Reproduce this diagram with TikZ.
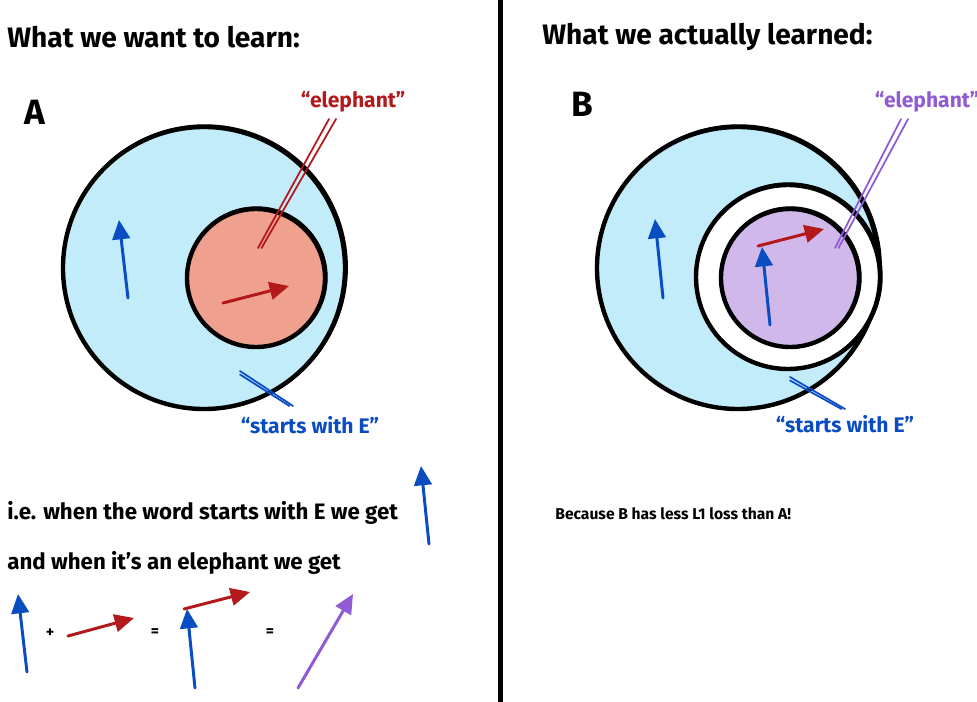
\documentclass[tikz,border=0pt]{standalone}
\usepackage{fontspec}
\setmainfont{Fira Sans}
\usepackage{xcolor}
\usetikzlibrary{arrows.meta}

\definecolor{skyfill}{HTML}{C3ECFA}
\definecolor{salmonfill}{HTML}{F0A08F}
\definecolor{lilacfill}{HTML}{D1B8EA}
\definecolor{vblue}{HTML}{0A4CC2}
\definecolor{vred}{HTML}{B3191B}
\definecolor{vpurple}{HTML}{8F5AD4}

\begin{document}
\begin{tikzpicture}[x=0.02cm, y=-0.02cm,
  rim/.style={line width=2.5pt, black},
  rimtrace/.style={line width=0.7pt, black},
  vec/.style={line width=1.7pt, line cap=round, -{Triangle[length=11pt, width=10pt]}},
  pointer/.style={line width=1pt, line cap=round},
  heading/.style={anchor=west, inner sep=0pt, font=\fontsize{16}{19}\selectfont\bfseries},
  panel/.style={inner sep=0pt, font=\fontsize{20}{24}\selectfont\bfseries},
  tag/.style={inner sep=0pt, font=\fontsize{12}{14}\selectfont\bfseries},
  prose/.style={anchor=west, inner sep=0pt, font=\fontsize{12.7}{15}\selectfont\bfseries},
  op/.style={inner sep=0pt, font=\fontsize{9}{10}\selectfont\bfseries}]
  \useasboundingbox (0,0) rectangle (977,702);

  % ---- divider ----
  \draw[line width=2.3pt] (500.5,0) -- (500.5,702);

  % ---- headings ----
  \node[heading] (headA) at (7,37) {What we want to learn:};
  \node[heading] (headB) at (542,37) {What we actually learned:};
  \node[panel] (panA) at (35,112) {A};
  \node[panel] (panB) at (582,104) {B};

  % ---- panel A: circles ----
  \fill[skyfill] (204,268) circle[radius=141];
  \draw[rim] (204,268) circle[radius=141];
  \draw[rimtrace] (204.8,267.4) circle[radius=142.5];
  \fill[salmonfill] (256,278) circle[radius=69];
  \draw[rim] (256,278) circle[radius=69];
  \draw[rimtrace] (256.6,277.4) circle[radius=70.5];

  % ---- panel A: vectors ----
  \draw[vec, vblue] (128,298) -- (119,220);
  \draw[vec, vred] (223,303) -- (289,286);

  % ---- panel A: labels and pointers ----
  \node[tag, vred] (elA) at (353,102) {“elephant”};
  \node[tag, vblue] (stA) at (310,425) {“starts with E”};
  \coordinate (elAin) at (258,248);
  \coordinate (elAout) at (329,119);
  \coordinate (stAin) at (240,371);
  \coordinate (stAout) at (293,406);
  \draw[pointer, vred] (elAin) -- (elAout);
  \draw[pointer, vred] ([xshift=2]elAin) -- ([xshift=4]elAout);
  \draw[pointer, vblue] (stAin) -- (stAout);
  \draw[pointer, vblue] ([yshift=-2]stAin) -- ([xshift=-2]stAout);

  % ---- panel B: circles ----
  \fill[skyfill] (738,268) circle[radius=141];
  \draw[rim] (738,268) circle[radius=141];
  \draw[rimtrace] (738.8,267.4) circle[radius=142.5];
  \fill[white] (788,277) circle[radius=92];
  \draw[rim] (788,277) circle[radius=92];
  \draw[rimtrace] (788.6,276.4) circle[radius=93.5];
  \fill[lilacfill] (790,278) circle[radius=69];
  \draw[rim] (790,278) circle[radius=69];
  \draw[rimtrace] (790.6,277.4) circle[radius=70.5];

  % ---- panel B: vectors ----
  \draw[vec, vblue] (663,298) -- (655,219);
  \draw[vec, vblue] (770,325) -- (762,247);
  \draw[vec, vred] (758,246) -- (824,229);

  % ---- panel B: labels and pointers ----
  \node[tag, vpurple] (elB) at (927,102) {“elephant”};
  \node[tag, vblue] (stB) at (845,424) {“starts with E”};
  \coordinate (elBin) at (835,248);
  \coordinate (elBout) at (901,119);
  \coordinate (stBin) at (790,377);
  \coordinate (stBout) at (845,409);
  \draw[pointer, vpurple] (elBin) -- (elBout);
  \draw[pointer, vpurple] ([xshift=2]elBin) -- ([xshift=4]elBout);
  \draw[pointer, vblue] (stBin) -- (stBout);
  \draw[pointer, vblue] ([yshift=-2]stBin) -- ([xshift=-2]stBout);

  % ---- bottom left: the sum ----
  \node[prose] (lineE) at (7,513) {i.e. when the word starts with E we get};
  \node[prose] (lineEl) at (7,563) {and when it’s an elephant we get};
  \draw[vec, vblue] (429,544) -- (421,466);
  \draw[vec, vblue] (27,672) -- (18,594);
  \node[op] (plus) at (50,633) {+};
  \draw[vec, vred] (68,636) -- (134,618);
  \node[op] (eqA) at (155,633) {=};
  \draw[vec, vblue] (195,688) -- (187,609);
  \draw[vec, vred] (184,609) -- (250,592);
  \node[op] (eqB) at (270,633) {=};
  \draw[vec, vpurple] (298,688) -- (353,594);

  % ---- bottom right ----
  \node[prose, font=\fontsize{8.9}{10}\selectfont\bfseries] (because) at (555,514) {Because B has less L1  loss than A!};
\end{tikzpicture}
\end{document}
